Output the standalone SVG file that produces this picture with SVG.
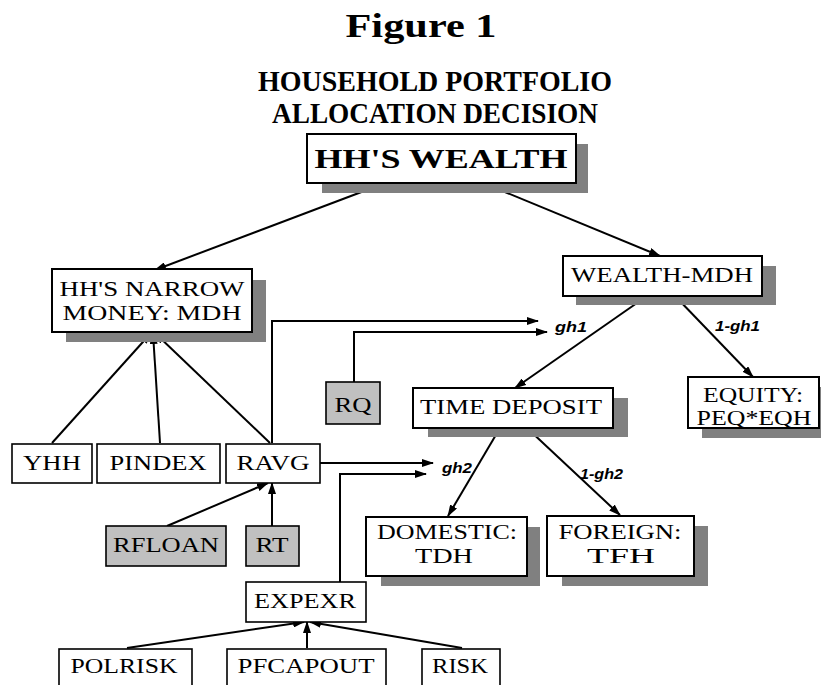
<svg xmlns="http://www.w3.org/2000/svg" width="821" height="685" viewBox="0 0 821 685">
  <style>
    .bg { fill: #ffffff; }
    .box { fill: #ffffff; stroke: #000000; stroke-width: 2; }
    .sbox { fill: #ffffff; stroke: #000000; stroke-width: 1.6; }
    .gbox { fill: #c0c0c0; stroke: #000000; stroke-width: 1.6; }
    .shadow { fill: #808080; }
    .t { font-family: "Liberation Serif", "Times New Roman", serif; font-size: 21px; fill: #000000; text-anchor: middle; }
    .tb { font-family: "Liberation Serif", "Times New Roman", serif; font-weight: bold; fill: #000000; text-anchor: middle; }
    .lbl { font-family: "Liberation Sans", Arial, sans-serif; font-weight: bold; font-style: italic; font-size: 14px; fill: #000000; }
    .edge { fill: none; stroke: #000000; stroke-width: 2; }
  </style>
  <defs>
    <marker id="arrow" markerUnits="userSpaceOnUse" markerWidth="12" markerHeight="8" refX="11" refY="4" orient="auto">
      <path d="M0,0 L12,4 L0,8 Z" fill="#000000"/>
    </marker>
  </defs>

  <rect class="bg" x="0" y="0" width="821" height="685"/>

  <!-- titles -->
  <g id="title">
    <text class="tb" x="421" y="37" font-size="33" textLength="151" lengthAdjust="spacingAndGlyphs">Figure 1</text>
    <text class="tb" x="435" y="91" font-size="29" textLength="354" lengthAdjust="spacingAndGlyphs">HOUSEHOLD PORTFOLIO</text>
    <text class="tb" x="435" y="123" font-size="29" textLength="326" lengthAdjust="spacingAndGlyphs">ALLOCATION DECISION</text>
  </g>

  <!-- connectors -->
  <g id="connectors">
    <line class="edge" x1="380" y1="185" x2="155" y2="270" marker-end="url(#arrow)"/>
    <line class="edge" x1="488" y1="185" x2="660" y2="256" marker-end="url(#arrow)"/>
    <line class="edge" x1="647" y1="296" x2="515" y2="388" marker-end="url(#arrow)"/>
    <line class="edge" x1="675" y1="296" x2="753" y2="377" marker-end="url(#arrow)"/>
    <line class="edge" x1="500" y1="428" x2="448" y2="516" marker-end="url(#arrow)"/>
    <line class="edge" x1="527" y1="428" x2="620" y2="515" marker-end="url(#arrow)"/>
    <polyline class="edge" points="272,443 272,321 538,321" marker-end="url(#arrow)"/>
    <polyline class="edge" points="354,382 354,332 547,332" marker-end="url(#arrow)"/>
    <line class="edge" x1="320" y1="463" x2="433" y2="463" marker-end="url(#arrow)"/>
    <polyline class="edge" points="340,582 340,474 426,474" marker-end="url(#arrow)"/>
    <line class="edge" x1="52" y1="443" x2="151" y2="333" marker-end="url(#arrow)"/>
    <line class="edge" x1="160" y1="443" x2="153" y2="333" marker-end="url(#arrow)"/>
    <line class="edge" x1="270" y1="443" x2="155" y2="333" marker-end="url(#arrow)"/>
    <line class="edge" x1="167" y1="526" x2="268" y2="483" marker-end="url(#arrow)"/>
    <line class="edge" x1="272" y1="526" x2="272" y2="483" marker-end="url(#arrow)"/>
    <line class="edge" x1="127" y1="648" x2="304" y2="622" marker-end="url(#arrow)"/>
    <line class="edge" x1="307" y1="648" x2="307" y2="622" marker-end="url(#arrow)"/>
    <line class="edge" x1="462" y1="648" x2="310" y2="622" marker-end="url(#arrow)"/>
    <text class="lbl" x="555" y="332" textLength="32" lengthAdjust="spacingAndGlyphs">gh1</text>
    <text class="lbl" x="715" y="331" textLength="45" lengthAdjust="spacingAndGlyphs">1-gh1</text>
    <text class="lbl" x="442" y="473" textLength="30" lengthAdjust="spacingAndGlyphs">gh2</text>
    <text class="lbl" x="580" y="479" textLength="43" lengthAdjust="spacingAndGlyphs">1-gh2</text>
  </g>

  <!-- nodes -->
  <g id="hh-wealth">
    <rect class="shadow" x="322" y="144" width="266" height="49"/>
    <rect class="box" x="307" y="134" width="269" height="49"/>
    <text class="tb" x="441" y="168" font-size="27" textLength="253" lengthAdjust="spacingAndGlyphs">HH'S WEALTH</text>
  </g>

  <g id="narrow-money">
    <rect class="shadow" x="66" y="280" width="200" height="62"/>
    <rect class="box" x="52" y="269" width="200" height="63"/>
    <text class="t" x="152" y="296" textLength="185" lengthAdjust="spacingAndGlyphs">HH'S NARROW</text>
    <text class="t" x="152" y="320" textLength="179" lengthAdjust="spacingAndGlyphs">MONEY: MDH</text>
  </g>

  <g id="wealth-mdh">
    <rect class="shadow" x="576" y="266" width="200" height="39"/>
    <rect class="box" x="563" y="256" width="199" height="40"/>
    <text class="t" x="662" y="282" textLength="182" lengthAdjust="spacingAndGlyphs">WEALTH-MDH</text>
  </g>

  <g id="equity">
    <rect class="shadow" x="702" y="387" width="131" height="51"/>
    <rect class="box" x="688" y="377" width="131" height="51"/>
    <text class="t" x="753" y="402" textLength="100" lengthAdjust="spacingAndGlyphs">EQUITY:</text>
    <text class="t" x="754" y="425" textLength="115" lengthAdjust="spacingAndGlyphs">PEQ*EQH</text>
  </g>

  <g id="time-deposit">
    <rect class="shadow" x="428" y="398" width="200" height="39"/>
    <rect class="box" x="413" y="388" width="200" height="40"/>
    <text class="t" x="511" y="414" textLength="182" lengthAdjust="spacingAndGlyphs">TIME DEPOSIT</text>
  </g>

  <g id="rq">
    <rect class="gbox" x="326" y="382" width="54" height="42"/>
    <text class="t" x="353" y="412" textLength="37" lengthAdjust="spacingAndGlyphs">RQ</text>
  </g>

  <g id="domestic">
    <rect class="shadow" x="381" y="527" width="159" height="59"/>
    <rect class="box" x="366" y="517" width="161" height="59"/>
    <text class="t" x="447" y="539" textLength="140" lengthAdjust="spacingAndGlyphs">DOMESTIC:</text>
    <text class="t" x="444" y="563" textLength="58" lengthAdjust="spacingAndGlyphs">TDH</text>
  </g>

  <g id="foreign">
    <rect class="shadow" x="562" y="526" width="146" height="60"/>
    <rect class="box" x="547" y="516" width="147" height="60"/>
    <text class="t" x="620" y="539" textLength="123" lengthAdjust="spacingAndGlyphs">FOREIGN:</text>
    <text class="t" x="621" y="563" textLength="68" lengthAdjust="spacingAndGlyphs">TFH</text>
  </g>

  <g id="yhh">
    <rect class="sbox" x="12" y="444" width="80" height="39"/>
    <text class="t" x="52" y="470" textLength="58" lengthAdjust="spacingAndGlyphs">YHH</text>
  </g>

  <g id="pindex">
    <rect class="sbox" x="97" y="444" width="123" height="39"/>
    <text class="t" x="158" y="470" textLength="97" lengthAdjust="spacingAndGlyphs">PINDEX</text>
  </g>

  <g id="ravg">
    <rect class="sbox" x="226" y="444" width="94" height="39"/>
    <text class="t" x="273" y="470" textLength="73" lengthAdjust="spacingAndGlyphs">RAVG</text>
  </g>

  <g id="rfloan">
    <rect class="gbox" x="106" y="526" width="120" height="40"/>
    <text class="t" x="166" y="552" textLength="106" lengthAdjust="spacingAndGlyphs">RFLOAN</text>
  </g>

  <g id="rt">
    <rect class="gbox" x="246" y="526" width="53" height="40"/>
    <text class="t" x="272" y="552" textLength="33" lengthAdjust="spacingAndGlyphs">RT</text>
  </g>

  <g id="expexr">
    <rect class="sbox" x="246" y="582" width="120" height="40"/>
    <text class="t" x="305" y="608" textLength="102" lengthAdjust="spacingAndGlyphs">EXPEXR</text>
  </g>

  <g id="polrisk">
    <rect class="sbox" x="59" y="649" width="133" height="60"/>
    <text class="t" x="124" y="673" textLength="107" lengthAdjust="spacingAndGlyphs">POLRISK</text>
  </g>

  <g id="pfcapout">
    <rect class="sbox" x="227" y="649" width="159" height="60"/>
    <text class="t" x="306" y="673" textLength="137" lengthAdjust="spacingAndGlyphs">PFCAPOUT</text>
  </g>

  <g id="risk">
    <rect class="sbox" x="422" y="649" width="78" height="60"/>
    <text class="t" x="460" y="673" textLength="56" lengthAdjust="spacingAndGlyphs">RISK</text>
  </g>
</svg>
